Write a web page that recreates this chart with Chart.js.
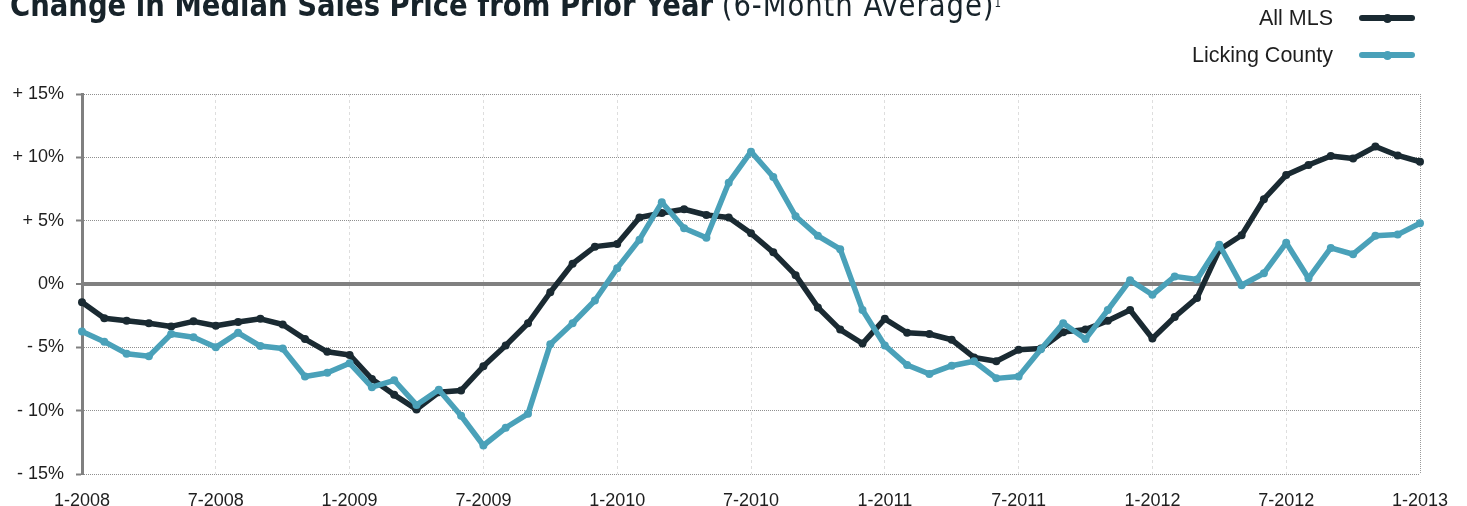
<!DOCTYPE html>
<html>
<head>
<meta charset="utf-8">
<script src="https://cdn.jsdelivr.net/npm/chart.js@4"></script>
<style>
    html, body { margin: 0; padding: 0; background: #fff; }
    body { width: 1467px; height: 506px; position: relative; overflow: hidden; }
    #chartWrap { position: absolute; left: 0; top: 0; width: 1467px; height: 506px; }
    #title {
        position: absolute; left: 10px; top: -10px; white-space: nowrap;
        font-family: "Liberation Sans Narrow", "DejaVu Sans Condensed", "Liberation Sans", sans-serif;
        font-size: 32px; line-height: 30px; color: #17232a; transform-origin: 0 0;
    }
    #title b { font-weight: bold; }
    #title span { font-weight: normal; letter-spacing: 1px; }
    #title sup { font-size: 12px; line-height: 0; vertical-align: baseline; position: relative; top: -9px; }
    .legend-text {
        position: absolute; top: 0; white-space: nowrap;
        font-family: "Liberation Sans", Arial, sans-serif; font-size: 21.5px; line-height: 24px; color: #1e1e1e;
    }
    .legend-line { position: absolute; left: 1359px; width: 56px; height: 6px; border-radius: 3px; }
    .legend-dot { position: absolute; left: 1383px; width: 9px; height: 9px; border-radius: 50%; }
</style>
</head>
<body>
<div id="chartWrap"><canvas id="priceChart" width="1467" height="506"></canvas></div>
<div id="title"><b>Change in Median Sales Price from Prior Year</b> <span>(6-Month Average)</span><sup>1</sup></div>
<div id="legend"></div>
<script>
// --- DADOS ---
const startYear = 2008;
const monthCount = 61;
const months = [];
for (let i = 0; i < monthCount; i++) {
    months.push(((i % 12) + 1) + '-' + (startYear + Math.floor(i / 12)));
}

const allMls = [-1.45, -2.7, -2.9, -3.1, -3.35, -2.95, -3.3, -3.0, -2.75, -3.2, -4.35, -5.35,
    -5.6, -7.5, -8.75, -9.9, -8.55, -8.4, -6.5, -4.85, -3.1, -0.65, 1.6, 2.95,
    3.15, 5.25, 5.6, 5.9, 5.45, 5.25, 4.0, 2.5, 0.7, -1.85, -3.6, -4.7,
    -2.75, -3.85, -3.95, -4.4, -5.8, -6.1, -5.2, -5.1, -3.8, -3.6, -2.9, -2.05,
    -4.3, -2.6, -1.1, 2.7, 3.85, 6.7, 8.6, 9.4, 10.1, 9.9, 10.85, 10.15, 9.65];

const lickingCounty = [-3.75, -4.55, -5.5, -5.7, -3.95, -4.2, -5.0, -3.85, -4.9, -5.1, -7.3, -7.0,
    -6.25, -8.15, -7.6, -9.55, -8.35, -10.4, -12.75, -11.35, -10.25, -4.75, -3.1, -1.3,
    1.25, 3.5, 6.45, 4.4, 3.65, 8.0, 10.45, 8.45, 5.35, 3.8, 2.75, -2.05,
    -4.85, -6.4, -7.1, -6.45, -6.1, -7.45, -7.3, -5.15, -3.1, -4.35, -2.05, 0.3,
    -0.85, 0.6, 0.35, 3.1, -0.1, 0.85, 3.25, 0.45, 2.85, 2.35, 3.8, 3.9, 4.8];

const yTicks = [-15, -10, -5, 0, 5, 10, 15];

const seriesNames = ['All MLS', 'Licking County'];
const seriesColors = ['#1a2a32', '#4aa1b9'];

// --- LEGENDA ---
const legend = document.getElementById('legend');
const legendY = [6, 43];
seriesNames.forEach((name, i) => {
    const row = document.createElement('div');
    row.style.position = 'absolute';
    row.style.left = '0';
    row.style.top = legendY[i] + 'px';
    row.style.width = '1467px';
    row.innerHTML = `
        <div class="legend-text" style="right:${1467 - 1333}px">${name}</div>
        <div class="legend-line" style="top:9px;background:${seriesColors[i]}"></div>
        <div class="legend-dot" style="top:7.5px;background:${seriesColors[i]}"></div>
    `;
    legend.appendChild(row);
});

// ajusta largura do título
const title = document.getElementById('title');
const boldPart = title.querySelector('b');
const targetBold = 703;
const scaleX = targetBold / boldPart.getBoundingClientRect().width;
title.style.transform = `scaleX(${scaleX})`;

// --- GRÁFICO ---
const ctx = document.getElementById('priceChart').getContext('2d');
const tickFont = { family: '"Liberation Sans", Arial, sans-serif', size: 18 };

new Chart(ctx, {
    type: 'line',
    data: {
        labels: months,
        datasets: [
            {
                label: seriesNames[0],
                data: allMls,
                borderColor: seriesColors[0],
                backgroundColor: seriesColors[0],
                borderWidth: 5.5,
                pointRadius: 4,
                pointBorderWidth: 0,
                borderCapStyle: 'round',
                borderJoinStyle: 'round',
                tension: 0,
                order: 2
            },
            {
                label: seriesNames[1],
                data: lickingCounty,
                borderColor: seriesColors[1],
                backgroundColor: seriesColors[1],
                borderWidth: 5.5,
                pointRadius: 4,
                pointBorderWidth: 0,
                borderCapStyle: 'round',
                borderJoinStyle: 'round',
                tension: 0,
                order: 1
            }
        ]
    },
    options: {
        responsive: false,
        animation: false,
        layout: { padding: { top: 94, right: 47, left: 0, bottom: 0 } },
        plugins: {
            legend: { display: false },
            title: { display: false },
            tooltip: { enabled: false }
        },
        scales: {
            x: {
                offset: false,
                afterFit: (scale) => { scale.height = 32; },
                ticks: {
                    autoSkip: false,
                    maxRotation: 0,
                    padding: 16,
                    color: '#1e1e1e',
                    font: tickFont,
                    callback: (value, index) => (index % 6 === 0 ? months[index] : '')
                },
                grid: {
                    drawTicks: false,
                    lineWidth: 1,
                    color: (c) => {
                        if (c.index === monthCount - 1) return '#9a9a9a';
                        return c.index % 6 === 0 ? '#dedede' : 'rgba(0,0,0,0)';
                    }
                },
                border: {
                    display: false,
                    dash: (c) => (c.index === monthCount - 1 ? [1, 1] : [3, 3])
                }
            },
            y: {
                min: -15,
                max: 15,
                afterFit: (scale) => { scale.width = 82; },
                afterBuildTicks: (scale) => { scale.ticks = yTicks.map(v => ({ value: v })); },
                ticks: {
                    padding: 12,
                    color: '#1e1e1e',
                    font: tickFont,
                    callback: (v) => (v > 0 ? '+ ' + v + '%' : v < 0 ? '- ' + Math.abs(v) + '%' : '0%')
                },
                grid: {
                    tickLength: 6,
                    tickColor: '#808080',
                    tickWidth: 2,
                    color: (c) => (c.tick && c.tick.value === 0 ? '#808080' : '#8f8f8f'),
                    lineWidth: (c) => (c.tick && c.tick.value === 0 ? 4 : 1)
                },
                border: {
                    display: true,
                    color: '#808080',
                    width: 3,
                    dash: (c) => (c.tick && c.tick.value === 0 ? [] : [1, 1])
                }
            }
        }
    }
});
</script>
</body>
</html>
